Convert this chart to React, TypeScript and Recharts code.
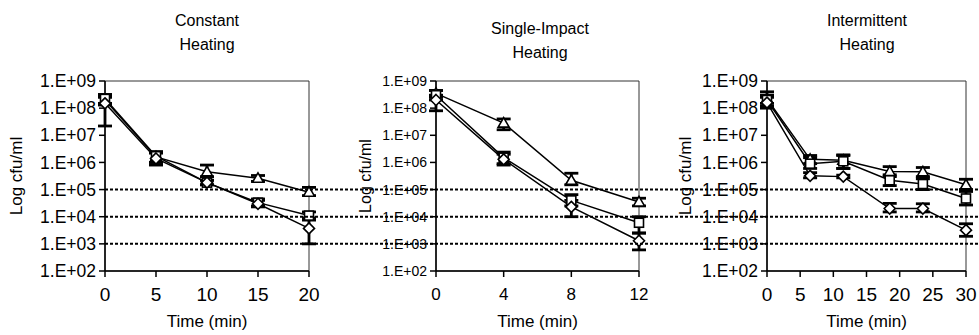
import {
  ErrorBar, Label, Line, LineChart, ReferenceArea, ReferenceLine, XAxis, YAxis,
} from 'recharts'

// Constant heating
const constantTimes = [0, 5, 10, 15, 20]
const constantTriangle = [2.0e8, 1.6e6, 4.5e5, 2.6e5, 8.0e4]
const constantTriangleLow = [1.3e8, 1.0e6, 3.0e5, 2.0e5, 6.0e4]
const constantTriangleHigh = [3.0e8, 2.4e6, 8.0e5, 3.3e5, 1.2e5]
const constantSquare = [2.2e8, 1.7e6, 1.8e5, 3.3e4, 1.1e4]
const constantSquareLow = [1.5e8, 1.0e6, 1.5e5, 2.5e4, 7.5e3]
const constantSquareHigh = [3.2e8, 2.5e6, 2.2e5, 4.5e4, 1.5e4]
const constantDiamond = [1.5e8, 1.4e6, 1.8e5, 3.0e4, 3.7e3]
const constantDiamondLow = [2.2e7, 8.0e5, 1.5e5, 2.3e4, 1.0e3]
const constantDiamondHigh = [2.5e8, 2.2e6, 2.2e5, 4.0e4, 9.0e3]

// Single-impact heating
const singleTimes = [0, 4, 8, 12]
const singleTriangle = [3.5e8, 2.8e7, 2.2e5, 3.5e4]
const singleTriangleLow = [2.5e8, 1.6e7, 1.5e5, 2.5e4]
const singleTriangleHigh = [4.5e8, 4.0e7, 4.0e5, 4.8e4]
const singleSquare = [3.0e8, 1.5e6, 4.0e4, 6.0e3]
const singleSquareLow = [2.0e8, 9.0e5, 2.5e4, 2.5e3]
const singleSquareHigh = [4.5e8, 2.4e6, 6.5e4, 1.0e4]
const singleDiamond = [2.0e8, 1.3e6, 2.3e4, 1.3e3]
const singleDiamondLow = [8.0e7, 8.0e5, 1.0e4, 6.0e2]
const singleDiamondHigh = [3.0e8, 2.0e6, 4.0e4, 2.5e3]

// Intermittent heating
const interTimes = [0, 6.5, 11.5, 18.5, 23.5, 30]
const interTicks = [0, 5, 10, 15, 20, 25, 30]
const interTriangle = [2.2e8, 1.3e6, 1.2e6, 4.6e5, 4.5e5, 1.5e5]
const interTriangleLow = [1.5e8, 9.0e5, 6.0e5, 3.0e5, 3.0e5, 1.0e5]
const interTriangleHigh = [4.0e8, 1.8e6, 1.9e6, 7.0e5, 6.5e5, 2.4e5]
const interSquare = [2.0e8, 9.0e5, 1.1e6, 2.2e5, 1.6e5, 4.7e4]
const interSquareLow = [1.2e8, 6.0e5, 6.0e5, 1.4e5, 1.0e5, 2.7e4]
const interSquareHigh = [3.0e8, 1.5e6, 1.8e6, 3.5e5, 2.5e5, 8.5e4]
const interDiamond = [1.6e8, 3.2e5, 3.0e5, 2.0e4, 2.0e4, 3.2e3]
const interDiamondLow = [1.0e8, 2.7e5, 2.7e5, 1.5e4, 1.5e4, 1.9e3]
const interDiamondHigh = [2.5e8, 4.2e5, 3.4e5, 3.1e4, 3.0e4, 5.5e3]

const yTicks = [1e2, 1e3, 1e4, 1e5, 1e6, 1e7, 1e8, 1e9]
const cutoffLevels = [1e5, 1e4, 1e3]

const FONT = 'Arial, "Liberation Sans", sans-serif'

const fmtExp = (v: number) => `1.E+${String(Math.round(Math.log10(v))).padStart(2, '0')}`

type Shape = 'triangle' | 'square' | 'diamond'

const marker = (shape: Shape) => (props: any) => {
  const { cx, cy, index } = props
  if (cx == null || cy == null) return <g key={index} />
  const common = { key: index, fill: '#fff', stroke: '#000', strokeWidth: 1.6 }
  if (shape === 'triangle') {
    return <polygon {...common} points={`${cx},${cy - 5.5} ${cx + 5.5},${cy + 4} ${cx - 5.5},${cy + 4}`} />
  }
  if (shape === 'square') {
    return <rect {...common} x={cx - 4.5} y={cy - 4.5} width={9} height={9} />
  }
  return <polygon {...common} points={`${cx},${cy - 5.5} ${cx + 5.5},${cy} ${cx},${cy + 5.5} ${cx - 5.5},${cy}`} />
}

function buildRows(
  times: number[],
  tri: number[], triLo: number[], triHi: number[],
  sq: number[], sqLo: number[], sqHi: number[],
  dia: number[], diaLo: number[], diaHi: number[],
) {
  return times.map((t, i) => ({
    t,
    tri: tri[i], triErr: [tri[i] - triLo[i], triHi[i] - tri[i]],
    sq: sq[i], sqErr: [sq[i] - sqLo[i], sqHi[i] - sq[i]],
    dia: dia[i], diaErr: [dia[i] - diaLo[i], diaHi[i] - dia[i]],
  }))
}

const constantRows = buildRows(constantTimes,
  constantTriangle, constantTriangleLow, constantTriangleHigh,
  constantSquare, constantSquareLow, constantSquareHigh,
  constantDiamond, constantDiamondLow, constantDiamondHigh)
const singleRows = buildRows(singleTimes,
  singleTriangle, singleTriangleLow, singleTriangleHigh,
  singleSquare, singleSquareLow, singleSquareHigh,
  singleDiamond, singleDiamondLow, singleDiamondHigh)
const interRows = buildRows(interTimes,
  interTriangle, interTriangleLow, interTriangleHigh,
  interSquare, interSquareLow, interSquareHigh,
  interDiamond, interDiamondLow, interDiamondHigh)

const SERIES: { key: string; shape: Shape }[] = [
  { key: 'tri', shape: 'triangle' },
  { key: 'sq', shape: 'square' },
  { key: 'dia', shape: 'diamond' },
]

function Panel({
  left, width, rows, xMax, xTicks, yAxisWidth, right, labelOffset, yTickFont, xTickFont, labelFont,
}: {
  left: number; width: number; rows: any[]; xMax: number; xTicks: number[]
  yAxisWidth: number; right: number; labelOffset: number
  yTickFont: number; xTickFont: number; labelFont: number
}) {
  return (
    <div style={{ position: 'absolute', left, top: 0 }}>
      <LineChart width={width} height={335} data={rows} margin={{ top: 81, right, bottom: 0, left: 0 }}
        style={{ overflow: 'visible' }}>
        <ReferenceArea x1={0} x2={xMax} y1={1e2} y2={1e9} fill="none" stroke="#333" strokeWidth={1} />
        <XAxis
          dataKey="t" type="number" domain={[0, xMax]} ticks={xTicks} height={64}
          stroke="#000" strokeWidth={1.5} tickSize={6} tickMargin={11}
          tick={{ fill: '#000', fontSize: xTickFont, fontFamily: FONT }}
        >
          <Label value="Time (min)" position="insideBottom" offset={8}
            style={{ fill: '#000', fontSize: 17, fontFamily: FONT }} />
        </XAxis>
        <YAxis
          scale="log" domain={[1e2, 1e9]} ticks={yTicks} tickFormatter={fmtExp} width={yAxisWidth}
          allowDataOverflow stroke="#000" strokeWidth={1.5} tickSize={6} tickMargin={3}
          tick={{ fill: '#000', fontSize: yTickFont, fontFamily: FONT }}
        >
          <Label value="Log cfu/ml" angle={-90} position="insideLeft" offset={labelOffset}
            style={{ fill: '#000', fontSize: labelFont, fontFamily: FONT, textAnchor: 'middle' }} />
        </YAxis>
        {SERIES.map((s) => (
          <Line key={s.key} dataKey={s.key} stroke="#000" strokeWidth={1.5} isAnimationActive={false}
            dot={marker(s.shape)} activeDot={false}>
            <ErrorBar dataKey={`${s.key}Err`} width={7} stroke="#000" strokeWidth={2.8} />
          </Line>
        ))}
      </LineChart>
    </div>
  )
}

const titleStyle = {
  position: 'absolute' as const, fontFamily: FONT, fontSize: 16, lineHeight: '24px',
  textAlign: 'center' as const, width: 200, color: '#000',
}

export default function App() {
  return (
    <div style={{ position: 'absolute', left: 0, top: 0, width: 979, height: 335, background: '#fff', overflow: 'hidden' }}>
      <div style={{ ...titleStyle, left: 107, top: 9 }}>Constant<br />Heating</div>
      <div style={{ ...titleStyle, left: 440, top: 17 }}>Single-Impact<br />Heating</div>
      <div style={{ ...titleStyle, left: 767, top: 9 }}>Intermittent<br />Heating</div>

      <Panel left={0} width={330} rows={constantRows} xMax={20} xTicks={constantTimes}
        yAxisWidth={105} right={21} labelOffset={16} yTickFont={17.5} xTickFont={19} labelFont={17} />
      <Panel left={330} width={330} rows={singleRows} xMax={12} xTicks={singleTimes}
        yAxisWidth={106} right={21} labelOffset={35} yTickFont={14} xTickFont={17} labelFont={16} />
      <Panel left={650} width={329} rows={interRows} xMax={30} xTicks={interTicks}
        yAxisWidth={117} right={13} labelOffset={35} yTickFont={17.5} xTickFont={19} labelFont={17} />

      <div style={{ position: 'absolute', left: 0, top: 0, pointerEvents: 'none' }}>
        <LineChart width={979} height={335} data={cutoffLevels.map((v) => ({ v }))}
          margin={{ top: 81, right: 0, bottom: 64, left: 105 }}>
          <XAxis hide />
          <YAxis hide scale="log" domain={[1e2, 1e9]} allowDataOverflow />
          {cutoffLevels.map((v) => (
            <ReferenceLine key={v} y={v} stroke="#000" strokeWidth={2} strokeDasharray="3 2" />
          ))}
        </LineChart>
      </div>
    </div>
  )
}
